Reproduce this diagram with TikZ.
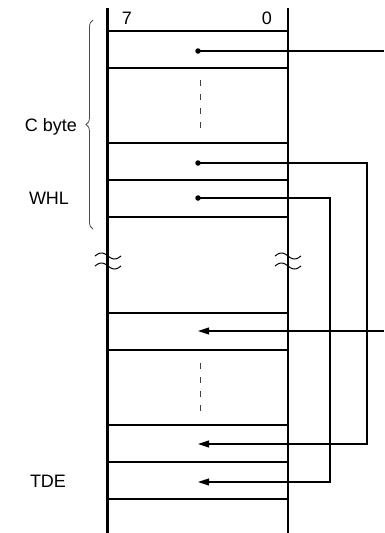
\documentclass[tikz,border=0pt]{standalone}
\usepackage{fontspec}
\setmainfont{Liberation Sans}
\usetikzlibrary{decorations.pathreplacing,arrows.meta}
\begin{document}
\begin{tikzpicture}[x=1pt,y=-1pt,
  wall/.style={line width=2.4pt},
  rowline/.style={line width=2.2pt},
  conn/.style={line width=1.1pt},
  arr/.style={conn,-{Triangle[length=11pt,width=7pt]}},
  dotmark/.style={circle,fill=black,inner sep=0pt,minimum size=5.5pt},
  lbl/.style={font=\fontsize{18}{21}\selectfont,inner sep=0pt},
  dashv/.style={line width=1pt,draw=black!75,dash pattern=on 6pt off 8pt},
  breakmark/.style={line width=1pt}]
\useasboundingbox (0,0) rectangle (384,533);
% walls
\draw[wall] (107.5,8) -- (107.5,533);
\draw[wall] (288,8) -- (288,533);
% row lines
\foreach \yy in {31,68,143,180,217,313,350,425,462,499}
  \draw[rowline] (107.5,\yy) -- (288,\yy);
% bit labels
\node[lbl] (b7) at (127,18) {7};
\node[lbl] (b0) at (267,18) {0};
% dashed continuation marks
\draw[dashv] (200,80) -- (200,128);
\draw[dashv] (200,363) -- (200,412);
% break marks
\foreach \cx in {108,288}{
  \foreach \cy in {256,266}{
    \draw[breakmark,domain=-13:13,samples=30,variable=\t]
      plot ({\cx+\t},{\cy+3*sin(\t/13*180)});
  }
}
% brace and labels
\draw[decorate,decoration={brace,amplitude=7pt},line width=0.8pt,draw=black!70]
  (93,229) -- (93,20);
\node[lbl,anchor=east] (cbyte) at (77,127) {C byte};
\node[lbl] (whl) at (49,198) {WHL};
\node[lbl] (tde) at (48,481) {TDE};
% pointer sources (dots)
\node[dotmark] (d1) at (198,51) {};
\node[dotmark] (d2) at (198,163) {};
\node[dotmark] (d3) at (198,198) {};
% pointer targets
\coordinate (t1) at (198,331);
\coordinate (t2) at (198,444);
\coordinate (t3) at (198,482);
\coordinate (e1) at (384,51);
\coordinate (s1) at (384,331);
% connectors
\draw[conn] (d1.center) -- (e1);
\draw[arr] (s1) -- (t1);
\draw[arr] (d2.center) -- (367,163) -- (367,444) -- (t2);
\draw[arr] (d3.center) -- (330,198) -- (330,482) -- (t3);
\end{tikzpicture}
\end{document}
